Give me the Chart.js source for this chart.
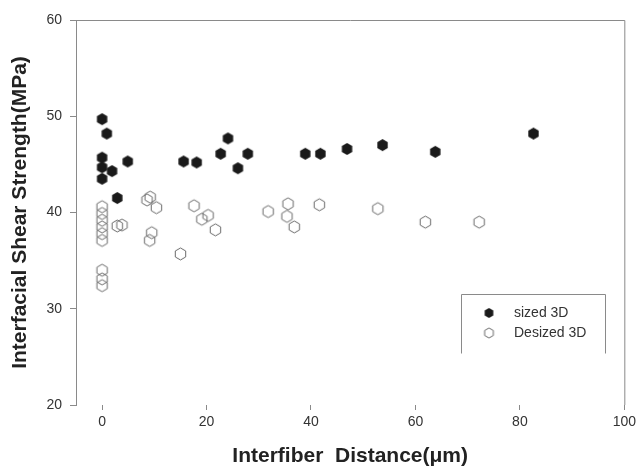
<!DOCTYPE html>
<html><head><meta charset="utf-8">
<script src="https://cdn.jsdelivr.net/npm/chart.js@4"></script>
<style>html,body{margin:0;padding:0;background:#fff}</style>
</head><body>
<canvas id="c" width="640" height="474"></canvas>
<script>
const sizedX = [0, 0.9, 0, 0, 1.9, 0, 2.9, 4.9, 15.6, 18.1, 22.7, 24.1, 26.0, 27.9, 38.9, 41.8, 46.9, 53.7, 63.8, 82.6];
const sizedY = [49.7, 48.2, 45.7, 44.7, 44.3, 43.5, 41.5, 45.3, 45.3, 45.2, 46.1, 47.7, 44.6, 46.1, 46.1, 46.1, 46.6, 47.0, 46.3, 48.2];
const desizedX = [0, 0, 0, 0, 0, 0, 0, 0, 0, 2.9, 3.8, 8.6, 9.2, 10.4, 9.5, 9.1, 15.0, 17.6, 19.1, 20.3, 21.7, 31.8, 35.6, 35.4, 36.8, 41.6, 52.8, 61.9, 72.2];
const desizedY = [40.6, 39.9, 39.2, 38.5, 37.8, 37.1, 34.0, 33.1, 32.4, 38.6, 38.7, 41.3, 41.6, 40.5, 37.9, 37.1, 35.7, 40.7, 39.3, 39.7, 38.2, 40.1, 40.9, 39.6, 38.5, 40.8, 40.4, 39.0, 39.0];
const xTicks = [0, 20, 40, 60, 80, 100];
const yTicks = [20, 30, 40, 50, 60];
const seriesNames = ['sized 3D', 'Desized 3D'];

function hexagon(r, fill, stroke) {
  const pad = 2;
  const w = Math.ceil(2 * r * Math.cos(Math.PI / 6)) + pad * 2;
  const h = Math.ceil(2 * r) + pad * 2;
  const c = document.createElement('canvas');
  c.width = w; c.height = h;
  const g = c.getContext('2d');
  g.beginPath();
  for (let i = 0; i < 6; i++) {
    const a = -Math.PI / 2 + i * Math.PI / 3;
    const px = w / 2 + r * Math.cos(a), py = h / 2 + r * Math.sin(a);
    if (i) g.lineTo(px, py); else g.moveTo(px, py);
  }
  g.closePath();
  if (fill) { g.fillStyle = fill; g.fill(); }
  if (stroke) { g.strokeStyle = stroke; g.lineWidth = 1; g.stroke(); }
  return c;
}
const filledHex = hexagon(6, '#1a1a1a', null);
const openHex = hexagon(6, null, '#6a6a6a');
const filledHexSmall = hexagon(5, '#1a1a1a', null);
const openHexSmall = hexagon(5, null, '#6a6a6a');

const toPts = (xs, ys) => xs.map((x, i) => ({x: x, y: ys[i]}));

const framePlugin = {
  id: 'frame',
  afterDraw(chart) {
    const {ctx, chartArea: a} = chart;
    ctx.save();
    ctx.strokeStyle = '#8a8a8a';
    ctx.lineWidth = 1;
    ctx.beginPath();
    ctx.moveTo(a.left, a.top + 0.5);
    ctx.lineTo(a.right + 0.5, a.top + 0.5);
    ctx.lineTo(a.right + 0.5, a.bottom);
    ctx.stroke();
    // legend box (open bottom)
    const bx = 461.5, by = 294.5, bw = 144, bh = 59;
    ctx.beginPath();
    ctx.moveTo(bx, by + bh);
    ctx.lineTo(bx, by);
    ctx.lineTo(bx + bw, by);
    ctx.lineTo(bx + bw, by + bh);
    ctx.stroke();
    const icons = [filledHexSmall, openHexSmall];
    ctx.fillStyle = '#333';
    ctx.font = '14px "Liberation Sans", Arial, sans-serif';
    ctx.textBaseline = 'middle';
    ctx.textAlign = 'left';
    seriesNames.forEach((name, i) => {
      const cy = 313 + i * 20;
      const img = icons[i];
      ctx.drawImage(img, 489 - img.width / 2, cy - img.height / 2);
      ctx.fillText(name, 514, cy);
    });
    ctx.restore();
  }
};

new Chart(document.getElementById('c'), {
  type: 'scatter',
  data: {
    datasets: [
      {label: seriesNames[0], data: toPts(sizedX, sizedY), pointStyle: filledHex, pointRadius: 6, pointHoverRadius: 6},
      {label: seriesNames[1], data: toPts(desizedX, desizedY), pointStyle: openHex, pointRadius: 6, pointHoverRadius: 6}
    ]
  },
  options: {
    responsive: false,
    animation: false,
    devicePixelRatio: 1,
    layout: {padding: {top: 20, right: 14, left: 0, bottom: 0}},
    plugins: {legend: {display: false}, tooltip: {enabled: false}},
    scales: {
      x: {
        type: 'linear', min: -5, max: 100,
        afterBuildTicks: s => { s.ticks = xTicks.map(v => ({value: v})); },
        afterFit: s => { s.height = 69; },
        ticks: {color: '#333', font: {family: '"Liberation Sans", Arial, sans-serif', size: 14}, padding: 4, maxRotation: 0},
        grid: {drawOnChartArea: false, drawTicks: true, tickLength: 5, color: '#8a8a8a'},
        border: {display: false},
        title: {display: true, text: 'Interfiber  Distance(\u03bcm)', color: '#222',
          font: {family: '"Liberation Sans", Arial, sans-serif', size: 21, weight: 'bold'}, padding: {top: 0, bottom: 5}}
      },
      y: {
        type: 'linear', min: 20, max: 60,
        afterBuildTicks: s => { s.ticks = yTicks.map(v => ({value: v})); },
        afterFit: s => { s.width = 76; },
        ticks: {color: '#333', font: {family: '"Liberation Sans", Arial, sans-serif', size: 14}, padding: 8},
        grid: {drawOnChartArea: false, drawTicks: true, tickLength: 6, color: '#8a8a8a'},
        border: {display: true, color: '#8a8a8a'},
        title: {display: true, text: 'Interfacial Shear Strength(MPa)', color: '#222',
          font: {family: '"Liberation Sans", Arial, sans-serif', size: 21, weight: 'bold'}, padding: {top: 8, bottom: 0}}
      }
    }
  },
  plugins: [framePlugin]
});
</script>
</body></html>
